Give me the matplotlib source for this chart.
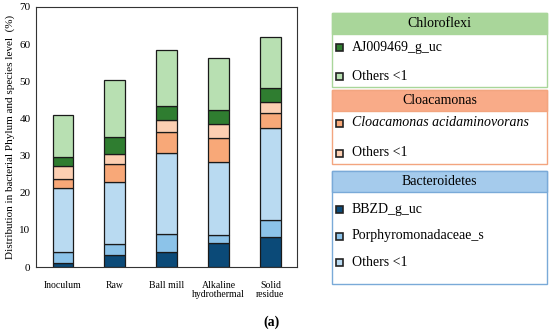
import matplotlib.pyplot as plt
import numpy as np
from matplotlib.patches import Rectangle

plt.rcParams["font.family"] = ["Liberation Serif", "DejaVu Serif"]

categories = ["Inoculum", "Raw", "Ball mill", "Alkaline\nhydrothermal", "Solid\nresidue"]

# stacked bottom -> top
bbzd = [1.2, 3.2, 4.1, 6.4, 8.2]
porphyro = [2.8, 3.1, 4.9, 2.1, 4.5]
bact_others = [17.3, 16.6, 21.7, 19.7, 24.7]
cloaca_acid = [2.3, 4.8, 5.7, 6.5, 4.2]
cloaca_others = [3.6, 2.7, 3.1, 3.7, 2.7]
aj009469 = [2.4, 4.6, 3.8, 3.8, 3.8]
chloro_others = [11.2, 15.4, 15.2, 14.0, 13.7]

series = [
    (bbzd, "#0b4a78"),
    (porphyro, "#8cc3e9"),
    (bact_others, "#b9daf1"),
    (cloaca_acid, "#f8a878"),
    (cloaca_others, "#fccfb2"),
    (aj009469, "#2f7d30"),
    (chloro_others, "#b8e0b2"),
]

fig = plt.figure(figsize=(5.5, 3.33), dpi=100)
ax = fig.add_axes([0.0655, 0.198, 0.475, 0.781])

x = np.arange(len(categories))
bottom = np.zeros(len(categories))
for vals, color in series:
    ax.bar(x, vals, 0.4, bottom=bottom, color=color, edgecolor="#1a1a1a",
           linewidth=0.9, zorder=2)
    bottom += np.array(vals)

ax.set_xlim(-0.52, 4.52)
ax.set_ylim(0, 70)
ax.set_yticks(range(0, 71, 10))
ax.set_xticks(x)
ax.set_xticklabels(categories, fontsize=7, linespacing=0.95)
ax.tick_params(axis="y", labelsize=8, length=0, pad=4)
ax.tick_params(axis="x", length=0, pad=10)
for s in ax.spines.values():
    s.set_linewidth(0.8)
    s.set_color("#333333")
ax.set_ylabel("Distribution in bacterial Phylum and species level  (%)", fontsize=8, labelpad=3)

fig.text(272 / 550, 1 - 322 / 333, "(a)", fontsize=10, fontweight="bold",
         ha="center", va="center")


def px(xp, yp):
    return xp / 550, 1 - yp / 333


def legend_box(top, bottom_px, header_h, title, head_col, edge_col, entries):
    x0, x1 = 332, 547
    fx, fy = px(x0, bottom_px)
    w = (x1 - x0) / 550
    h = (bottom_px - top) / 333
    fig.add_artist(Rectangle((fx, fy), w, h, transform=fig.transFigure,
                             facecolor="white", edgecolor=edge_col, linewidth=1.0))
    hx, hy = px(x0, top + header_h)
    fig.add_artist(Rectangle((hx, hy), w, header_h / 333, transform=fig.transFigure,
                             facecolor=head_col, edgecolor=edge_col, linewidth=1.0))
    tx, ty = px((x0 + x1) / 2, top + header_h / 2)
    fig.text(tx, ty, title, fontsize=10, ha="center", va="center")
    for label, color, yp, style in entries:
        mx, my = px(336, yp + 3.5)
        fig.add_artist(Rectangle((mx, my), 7 / 550, 7 / 333, transform=fig.transFigure,
                                 facecolor=color, edgecolor="#222222", linewidth=1.2))
        lx, ly = px(352, yp)
        fig.text(lx, ly, label, fontsize=10, ha="left", va="center", style=style)


legend_box(13, 87, 21, "Chloroflexi", "#a9d69a", "#a9d69a", [
    ("AJ009469_g_uc", "#2f7d30", 47, "normal"),
    ("Others <1", "#b8e0b2", 76, "normal"),
])
legend_box(90, 164, 21, "Cloacamonas", "#f9ab88", "#f3a57f", [
    ("Cloacamonas acidaminovorans", "#f8a878", 123, "italic"),
    ("Others <1", "#fccfb2", 153, "normal"),
])
legend_box(171, 284, 21, "Bacteroidetes", "#a5cbec", "#7aaad8", [
    ("BBZD_g_uc", "#0b4a78", 209, "normal"),
    ("Porphyromonadaceae_s", "#8cc3e9", 236, "normal"),
    ("Others <1", "#b9daf1", 262, "normal"),
])

fig.savefig("out.png", dpi=100)
